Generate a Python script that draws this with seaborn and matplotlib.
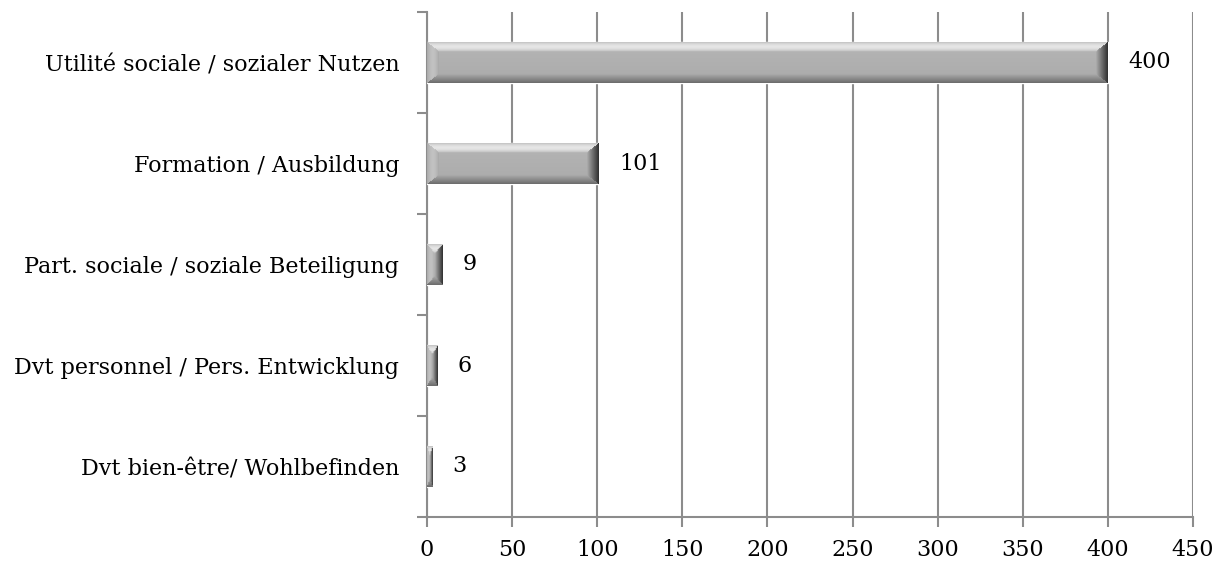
import numpy as np
import pandas as pd
import matplotlib
matplotlib.use("Agg")
import matplotlib.pyplot as plt
import seaborn as sns

categories = [
    "Utilité sociale / sozialer Nutzen",
    "Formation / Ausbildung",
    "Part. sociale / soziale Beteiligung",
    "Dvt personnel / Pers. Entwicklung",
    "Dvt bien-être/ Wohlbefinden",
]
values = [400, 101, 9, 6, 3]
x_ticks = [0, 50, 100, 150, 200, 250, 300, 350, 400, 450]

df = pd.DataFrame({"category": categories, "value": values})

sns.set_style("white")
plt.rcParams["font.family"] = ["DejaVu Serif"]
plt.rcParams["font.size"] = 16
plt.rcParams["text.color"] = "black"
plt.rcParams["xtick.labelcolor"] = "black"
plt.rcParams["ytick.labelcolor"] = "black"

grid_col = "#8c8c8c"


def bevel_image(w_px, h_px):
    # bevelled bar: light top edge, dark bottom, dark right end
    w_px = max(int(round(w_px)), 2)
    h_px = max(int(round(h_px)), 2)
    yy, xx = np.mgrid[0:h_px, 0:w_px]
    yy = yy + 0.5
    xx = xx + 0.5
    bev_v = min(9.0, h_px / 4)
    bev_h = min(12.0, w_px / 2)
    # scaled distances so mitre corners line up
    d_top = yy / bev_v
    d_bot = (h_px - yy) / bev_v
    d_left = xx / bev_h
    d_right = (w_px - xx) / bev_h
    dists = np.stack([d_top, d_bot, d_left, d_right])
    nearest = np.argmin(dists, axis=0)
    dmin = np.min(dists, axis=0)

    t = yy / h_px
    shade = 0.71 - 0.04 * t
    s = np.clip(dmin, 0, 1)
    top = 0.76 + 0.14 * np.sin(np.pi * s)
    bot = 0.42 + 0.26 * s
    left = 0.66 + 0.10 * np.sin(np.pi * s)
    right = 0.18 + 0.50 * s
    edge = dmin < 1
    for k, arr in enumerate([top, bot, left, right]):
        m = edge & (nearest == k)
        shade = np.where(m, arr, shade)
    img = np.repeat(shade[..., None], 3, axis=2)
    return img


fig = plt.figure(figsize=(12.29, 5.72), dpi=100)
ax = fig.add_axes([427 / 1229, 1 - 517 / 572, 766 / 1229, 505 / 572])

sns.barplot(data=df, x="value", y="category", orient="h", color="#b4b4b4",
            width=0.4, ax=ax, zorder=3, saturation=1)

ax.set_xlim(0, 450)
ax.set_ylim(4.5, -0.5)
ax.set_xticks(x_ticks)
ax.set_xlabel("")
ax.set_ylabel("")

ax.grid(axis="x", color=grid_col, linewidth=1.5, zorder=0)
ax.grid(axis="y", visible=False)

for side in ["top", "right"]:
    ax.spines[side].set_visible(False)
for side in ["left", "bottom"]:
    ax.spines[side].set_color(grid_col)
    ax.spines[side].set_linewidth(1.5)

ax.tick_params(axis="x", length=7, width=1.5, color=grid_col, pad=9,
               labelsize=16, direction="out", bottom=True)
ax.tick_params(axis="y", which="major", length=0, pad=20, labelsize=16)
ax.set_yticks(np.arange(-0.5, 5.0, 1.0), minor=True)
ax.tick_params(axis="y", which="minor", length=7, width=1.5, color=grid_col,
               direction="out", left=True)

# px per data unit
px_x = 766 / 450
px_y = 505 / 5

for patch in ax.patches:
    x0, y0 = patch.get_x(), patch.get_y()
    w, h = patch.get_width(), patch.get_height()
    img = bevel_image(w * px_x, h * px_y)
    patch.set_facecolor("none")
    im = ax.imshow(img, extent=[x0, x0 + w, y0 + h, y0], aspect="auto",
                   zorder=4, interpolation="bilinear", vmin=0, vmax=1)
    im.set_clip_path(patch)

ax.set_xlim(0, 450)
ax.set_ylim(4.5, -0.5)

for val, cat_pos in zip(values, range(len(values))):
    ax.annotate(str(val), xy=(val, cat_pos), xytext=(20, 0),
                textcoords="offset pixels", va="center", ha="left",
                fontsize=16, zorder=5)

fig.savefig("out.png", dpi=100)
